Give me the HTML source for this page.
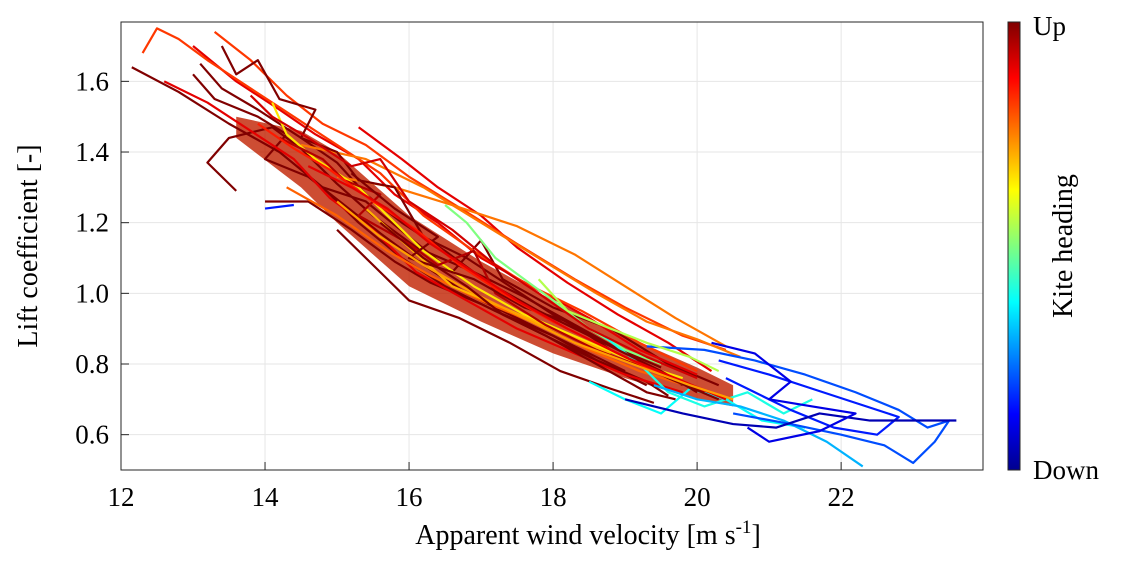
<!DOCTYPE html>
<html><head><meta charset="utf-8"><style>
body{margin:0;background:#fff;}
svg text{font-family:"Liberation Serif",serif;fill:#000;}
</style></head><body>
<svg id="chart" width="1127" height="559" xmlns="http://www.w3.org/2000/svg">
<defs><linearGradient id="jet" x1="0" y1="1" x2="0" y2="0">
<stop offset="0" stop-color="#00008f"/><stop offset="0.125" stop-color="#0000ff"/><stop offset="0.375" stop-color="#00ffff"/><stop offset="0.625" stop-color="#ffff00"/><stop offset="0.875" stop-color="#ff0000"/><stop offset="1" stop-color="#800000"/></linearGradient>
<clipPath id="clip"><rect x="121" y="22" width="862" height="448"/></clipPath></defs>
<g id="grid"></g>
<g id="series" clip-path="url(#clip)"></g>
<rect x="121" y="22" width="862" height="448" fill="none" stroke="#262626" stroke-width="1"/>
<g id="ticks"></g>
<text x="588" y="544" font-size="28" text-anchor="middle">Apparent wind velocity [m s<tspan dy="-11" font-size="19">-1</tspan><tspan dy="11">]</tspan></text>
<text transform="translate(37,246) rotate(-90)" font-size="28" text-anchor="middle">Lift coefficient [-]</text>
<rect x="1008" y="22" width="12" height="448" fill="url(#jet)" stroke="#262626" stroke-width="1"/>
<text x="1033" y="35" font-size="27">Up</text>
<text x="1033" y="479" font-size="27">Down</text>
<text transform="translate(1072,246) rotate(-90)" font-size="28" text-anchor="middle">Kite heading</text>
</svg>
<script>
const xTicks=[12,14,16,18,20,22];
const yTicks=[0.6,0.8,1.0,1.2,1.4,1.6];
const bandV=[13.6,14.5,15,16,17,18,19,20,20.5];
const bandUpper=[1.50,1.46,1.40,1.22,1.09,0.98,0.88,0.79,0.74];
const bandLower=[1.44,1.30,1.20,1.02,0.92,0.83,0.76,0.70,0.68];
const headings=[1,1,1,1,1,1,1,0.9,0.9,0.9,0.82,0.82,0.76,0.76,0.78,0.65,0.7,0.5,0.4,0.38,0.3,0.2,0.15,0.05,0.1,0.15,1,0.95,1,0.85,0.9,0.72,0.55,1,0.92];
const trajectories=[
[[12.15,1.64],[12.8,1.57],[13.5,1.48],[14.2,1.40],[14.8,1.30],[15.3,1.20],[15.9,1.10],[16.5,1.02],[17.2,0.95],[18,0.88],[18.7,0.80],[19.3,0.74]],
[[13.0,1.62],[13.3,1.55],[13.9,1.50],[14.3,1.45],[14.0,1.38],[14.6,1.33],[15.1,1.25],[15.6,1.17],[16.2,1.08],[16.8,1.00],[17.5,0.93],[18.3,0.85],[19.0,0.78]],
[[13.6,1.29],[13.2,1.37],[13.5,1.44],[14.1,1.47],[14.5,1.41],[15.0,1.31],[15.5,1.22],[16.1,1.13],[16.9,1.06],[17.6,0.99],[18.4,0.90],[19.1,0.82],[19.8,0.74]],
[[14.0,1.26],[14.6,1.26],[15.2,1.18],[15.8,1.09],[16.3,1.03],[17.0,0.97],[17.7,0.90],[18.5,0.82],[19.3,0.75],[19.6,0.71]],
[[15.0,1.18],[15.6,1.06],[16.0,0.98],[16.7,0.93],[17.4,0.86],[18.1,0.78],[18.8,0.73],[19.4,0.69]],
[[13.1,1.65],[13.4,1.58],[13.9,1.52],[14.5,1.44],[15.0,1.37],[15.4,1.28],[15.9,1.20],[16.5,1.12],[17.1,1.03],[17.8,0.95],[18.6,0.87],[19.5,0.79]],
[[14.8,1.30],[15.4,1.26],[16.0,1.16],[16.6,1.06],[17.0,1.15],[17.3,1.04],[18.0,0.96],[18.8,0.90],[19.6,0.80],[20.3,0.74]],
[[13.0,1.70],[13.6,1.60],[14.2,1.52],[14.7,1.45],[15.3,1.38],[15.8,1.28],[16.4,1.20],[17.0,1.10],[17.7,1.02],[18.5,0.93],[19.2,0.84],[20.0,0.77]],
[[12.6,1.60],[13.2,1.54],[13.8,1.46],[14.4,1.38],[14.9,1.27],[15.5,1.18],[16.1,1.06],[16.8,0.98],[17.5,0.90],[18.3,0.83],[19.0,0.77],[19.8,0.72]],
[[15.3,1.47],[15.9,1.38],[16.4,1.30],[17.0,1.22],[17.5,1.13],[18.2,1.03],[18.9,0.94],[19.6,0.86],[20.2,0.78]],
[[12.3,1.68],[12.5,1.75],[12.8,1.72],[13.2,1.66],[13.8,1.58],[14.4,1.50],[15.0,1.42],[15.6,1.34],[16.2,1.22],[16.9,1.12],[17.6,1.03],[18.4,0.95],[19.2,0.86],[20.0,0.78]],
[[13.3,1.74],[13.8,1.66],[14.3,1.56],[14.8,1.48],[15.4,1.42],[16.0,1.33],[16.8,1.23],[17.5,1.14],[18.3,1.04],[19.0,0.96],[19.8,0.88],[20.4,0.84]],
[[15.0,1.33],[15.8,1.30],[16.6,1.25],[17.5,1.19],[18.3,1.11],[19.0,1.02],[19.7,0.93],[20.4,0.85]],
[[14.5,1.42],[15.4,1.38],[16.2,1.30],[17.0,1.20],[17.8,1.10],[18.6,1.00],[19.3,0.92],[20.0,0.87],[20.6,0.82]],
[[14.3,1.30],[15.0,1.22],[15.7,1.12],[16.3,1.05],[17.0,0.98],[17.7,0.92],[18.5,0.84],[19.2,0.78],[20.0,0.73]],
[[14.1,1.54],[14.3,1.45],[14.7,1.38],[15.3,1.30],[15.8,1.20],[16.2,1.12],[16.9,1.02],[17.6,0.94],[18.4,0.87],[19.2,0.80],[19.8,0.76]],
[[15.4,1.24],[16.0,1.13],[16.6,1.02],[17.3,0.96],[18.1,0.89],[18.8,0.83]],
[[16.5,1.25],[16.8,1.20],[17.2,1.10],[17.6,1.04],[18.0,0.98],[18.5,0.90],[19.0,0.84],[19.5,0.80]],
[[18.7,0.88],[19.2,0.80],[19.6,0.72],[20.1,0.68],[20.7,0.72],[21.2,0.66],[21.6,0.70]],
[[18.5,0.75],[19.0,0.70],[19.5,0.66],[19.9,0.73],[20.4,0.70],[20.9,0.64],[21.5,0.62]],
[[19.4,0.74],[20.0,0.70],[20.6,0.68],[21.2,0.64],[21.8,0.58],[22.3,0.51]],
[[19.3,0.85],[20.1,0.84],[20.8,0.81],[21.5,0.77],[22.2,0.72],[22.8,0.67],[23.2,0.62],[23.5,0.64],[23.3,0.58],[23.0,0.52],[22.6,0.57],[22.0,0.60],[21.3,0.63],[20.5,0.66]],
[[20.3,0.81],[21.0,0.77],[21.6,0.73],[22.2,0.69],[22.8,0.65],[22.5,0.60],[21.9,0.62],[21.3,0.67],[20.8,0.72],[20.4,0.76]],
[[19.0,0.70],[19.8,0.66],[20.5,0.63],[21.1,0.62],[21.7,0.66],[22.4,0.64],[23.0,0.64],[23.6,0.64]],
[[20.2,0.86],[20.8,0.83],[21.3,0.75],[21.0,0.70],[21.6,0.68],[22.2,0.66],[21.7,0.61],[21.0,0.58],[20.7,0.62]],
[[14.0,1.24],[14.4,1.25]],
[[13.4,1.70],[13.6,1.62],[13.9,1.66],[14.2,1.55],[14.7,1.52],[14.5,1.44],[15.0,1.40],[15.3,1.32],[15.8,1.30],[16.2,1.16],[16.8,1.10],[17.4,1.02],[18.0,0.94],[18.7,0.86],[19.5,0.78],[20.0,0.72]],
[[14.2,1.44],[14.8,1.38],[15.1,1.32],[15.6,1.28],[15.3,1.22],[16.0,1.14],[16.4,1.08],[16.9,1.12],[17.2,1.00],[17.9,0.91],[18.6,0.84],[19.4,0.78],[20.1,0.72]],
[[15.2,1.34],[15.8,1.24],[16.4,1.16],[16.0,1.10],[16.9,1.04],[17.6,0.96],[18.2,0.92],[18.8,0.84],[19.6,0.76],[20.3,0.70]],
[[13.9,1.48],[14.4,1.41],[14.9,1.35],[15.5,1.26],[16.1,1.18],[16.7,1.08],[17.3,1.00],[18.0,0.92],[18.8,0.84],[19.5,0.77],[20.2,0.72]],
[[14.6,1.36],[15.2,1.30],[15.7,1.24],[16.3,1.14],[16.9,1.06],[17.5,0.98],[18.2,0.90],[19.0,0.82],[19.7,0.76],[20.4,0.70]],
[[15.0,1.26],[15.6,1.16],[16.2,1.08],[16.9,1.00],[17.6,0.93],[18.3,0.86],[19.1,0.80],[19.9,0.74],[20.5,0.70]],
[[17.8,1.04],[18.2,0.95],[18.8,0.90],[19.3,0.86],[19.9,0.82],[20.3,0.78]],
[[15.6,1.20],[16.2,1.10],[16.8,1.02],[17.3,0.94],[17.9,0.88],[18.6,0.80],[19.3,0.72],[19.7,0.70]],
[[13.8,1.56],[14.1,1.50],[14.6,1.44],[15.2,1.36],[15.6,1.38],[16.0,1.26],[16.6,1.18],[17.2,1.08],[17.8,1.00],[18.5,0.90],[19.3,0.82],[20.0,0.76]]
];
const NS="http://www.w3.org/2000/svg";
const X0=121,X1=983,Y0=22,Y1=470,XMIN=12,XMAX=23.97,YMIN=0.5,YMAX=1.768;
const sx=v=>X0+(v-XMIN)/(XMAX-XMIN)*(X1-X0);
const sy=v=>Y1-(v-YMIN)/(YMAX-YMIN)*(Y1-Y0);
function jet(t){const c=s=>Math.round(255*Math.max(0,Math.min(1,s)));
return `rgb(${c(1.5-Math.abs(4*t-3))},${c(1.5-Math.abs(4*t-2))},${c(1.5-Math.abs(4*t-1))})`;}
const grid=document.getElementById('grid'),ticks=document.getElementById('ticks'),ser=document.getElementById('series');
xTicks.forEach(v=>{const x=sx(v);
const l=document.createElementNS(NS,'line');l.setAttribute('x1',x);l.setAttribute('x2',x);l.setAttribute('y1',Y0);l.setAttribute('y2',Y1);l.setAttribute('stroke','#e6e6e6');

grid.appendChild(l);
const t=document.createElementNS(NS,'line');t.setAttribute('x1',x);t.setAttribute('x2',x);t.setAttribute('y1',Y1);t.setAttribute('y2',Y1-8);t.setAttribute('stroke','#262626');

ticks.appendChild(t);
const tx=document.createElementNS(NS,'text');tx.setAttribute('x',x);tx.setAttribute('y',506);tx.setAttribute('font-size','27');tx.setAttribute('text-anchor','middle');tx.textContent=v;

ticks.appendChild(tx);});
yTicks.forEach(v=>{const y=sy(v);
const l=document.createElementNS(NS,'line');l.setAttribute('x1',X0);l.setAttribute('x2',X1);l.setAttribute('y1',y);l.setAttribute('y2',y);l.setAttribute('stroke','#e6e6e6');

grid.appendChild(l);
const t=document.createElementNS(NS,'line');t.setAttribute('x1',X0);t.setAttribute('x2',X0+8);t.setAttribute('y1',y);t.setAttribute('y2',y);t.setAttribute('stroke','#262626');

ticks.appendChild(t);
const tx=document.createElementNS(NS,'text');tx.setAttribute('x',109);tx.setAttribute('y',y+9);tx.setAttribute('font-size','27');tx.setAttribute('text-anchor','end');tx.textContent=v.toFixed(1);

ticks.appendChild(tx);});
const band=document.createElementNS(NS,'polygon');
const bp=bandV.map((v,i)=>sx(v)+','+sy(bandUpper[i])).concat(bandV.map((v,i)=>sx(v)+','+sy(bandLower[i])).reverse());
band.setAttribute('points',bp.join(' '));band.setAttribute('fill','#c02000');band.setAttribute('opacity','0.8');

ser.appendChild(band);
trajectories.forEach((tr,i)=>{const p=document.createElementNS(NS,'polyline');
p.setAttribute('points',tr.map(q=>sx(q[0])+','+sy(q[1])).join(' '));
p.setAttribute('fill','none');p.setAttribute('stroke',jet(headings[i]));p.setAttribute('stroke-width','2.2');p.setAttribute('stroke-linejoin','round');

ser.appendChild(p);});
</script>
</body></html>
